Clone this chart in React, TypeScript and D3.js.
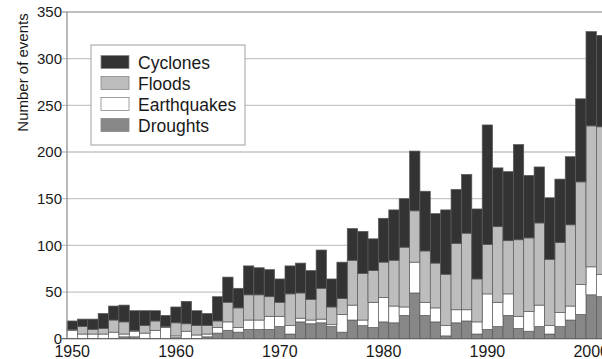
import React from 'react'
import * as d3 from 'd3'

// one bar per year, 1950-2001 (the last one is cut by the frame)
const years = d3.range(1950, 2002)

const droughts = [
  0, 0, 0, 0, 0, 2, 2, 0, 0, 0, 1, 0, 0,
  2, 6, 9, 7, 10, 10, 10, 13, 5, 18, 16, 17, 13, 7, 20, 14, 12,
  18, 17, 25, 49, 25, 18, 3, 17, 19, 5,
  10, 13, 25, 11, 8, 13, 5, 13, 20, 26, 47, 45
]
const earthquakes = [
  9, 5, 5, 5, 7, 3, 6, 6, 9, 12, 2, 8, 4,
  3, 6, 9, 5, 10, 10, 14, 11, 9, 4, 4, 4, 2, 19, 16, 6, 27,
  26, 18, 9, 33, 14, 15, 11, 14, 12, 13,
  38, 26, 23, 13, 21, 23, 9, 15, 15, 32, 30, 24
]
const floods = [
  1, 8, 5, 6, 13, 13, 1, 8, 10, 1, 14, 8, 10,
  9, 7, 21, 21, 27, 27, 21, 15, 34, 27, 22, 33, 19, 17, 48, 50, 34,
  38, 49, 64, 55, 55, 48, 55, 71, 82, 46,
  53, 81, 57, 82, 79, 88, 71, 75, 87, 110, 151, 158
]
const cyclones = [
  9, 8, 11, 16, 15, 18, 21, 16, 11, 12, 17, 24, 16,
  13, 26, 27, 21, 31, 29, 29, 25, 30, 32, 31, 41, 30, 39, 34, 45, 34,
  47, 54, 52, 64, 64, 53, 69, 58, 63, 75,
  128, 63, 74, 102, 67, 60, 66, 68, 73, 89, 101, 98
]

const yTicks = [0, 50, 100, 150, 200, 250, 300, 350]
const xLabels = [1950, 1960, 1970, 1980, 1990, 2000]

// stacking order, bottom to top
const keys = ['Droughts', 'Earthquakes', 'Floods', 'Cyclones']
const colors = ['#878787', '#ffffff', '#bdbdbd', '#333333']

const font = '"Liberation Sans", Arial, sans-serif'

export default function App() {
  const left = 67
  const barW = 10.38

  const x = d3.scaleBand<number>()
    .domain(years)
    .range([left, left + years.length * barW])
    .padding(0)
  const y = d3.scaleLinear().domain([0, 350]).range([338.7, 12])
  const color = d3.scaleOrdinal<string, string>().domain(keys).range(colors)

  const rows = years.map((yr, i) => ({
    year: yr,
    Droughts: droughts[i],
    Earthquakes: earthquakes[i],
    Floods: floods[i],
    Cyclones: cyclones[i]
  }))
  const series = d3.stack<any>().keys(keys)(rows)

  const legendItems = keys.slice().reverse()

  return (
    <div style={{ position: 'absolute', left: 0, top: 0 }}>
      <svg width={602} height={359} style={{ display: 'block', fontFamily: font }}>
        <rect width={602} height={359} fill="#fff" />

        {/* grid */}
        {yTicks.filter(t => t > 0).map(t => (
          <line key={t} x1={62} x2={602} y1={y(t)} y2={y(t)}
            stroke={t === 350 ? '#a8a8a8' : '#c6c6c6'} strokeWidth={1.3} />
        ))}

        {/* bars */}
        {series.map(s => (
          <g key={s.key} fill={color(s.key)}>
            {s.map((d, i) => (
              d[1] - d[0] > 0 ?
                <rect key={i}
                  x={x(years[i])}
                  y={y(d[1])}
                  width={x.bandwidth()}
                  height={y(d[0]) - y(d[1])}
                  stroke="#5a5a5a" strokeWidth={0.7} /> : null
            ))}
          </g>
        ))}

        {/* axes */}
        <line x1={67} x2={67} y1={12} y2={339} stroke="#8a8a8a" strokeWidth={1.2} />
        <line x1={62} x2={602} y1={y(0)} y2={y(0)} stroke="#666" strokeWidth={1.2} />

        {yTicks.map(t => (
          <text key={t} x={62} y={y(t)} dy="0.35em" textAnchor="end"
            fontSize={15} fill="#1a1a1a">{t}</text>
        ))}
        {xLabels.map(yr => (
          <text key={yr} x={(x(yr) as number) + x.bandwidth() / 2} y={356.5}
            textAnchor="middle" fontSize={16} fill="#1a1a1a">{yr}</text>
        ))}

        <text transform="translate(27.5,72.5) rotate(-90)" textAnchor="middle"
          fontSize={15} fill="#1a1a1a">Number of events</text>

        {/* legend */}
        <rect x={91} y={45} width={154} height={100} fill="#fff" stroke="#a0a0a0" strokeWidth={1} />
        {legendItems.map((k, i) => (
          <g key={k} transform={`translate(101,${55.5 + i * 21})`}>
            <rect width={28} height={13} fill={color(k)} stroke="#888" strokeWidth={0.8} />
            <text x={37} y={13} fontSize={17.5} fill="#1a1a1a">{k}</text>
          </g>
        ))}
      </svg>
    </div>
  )
}
